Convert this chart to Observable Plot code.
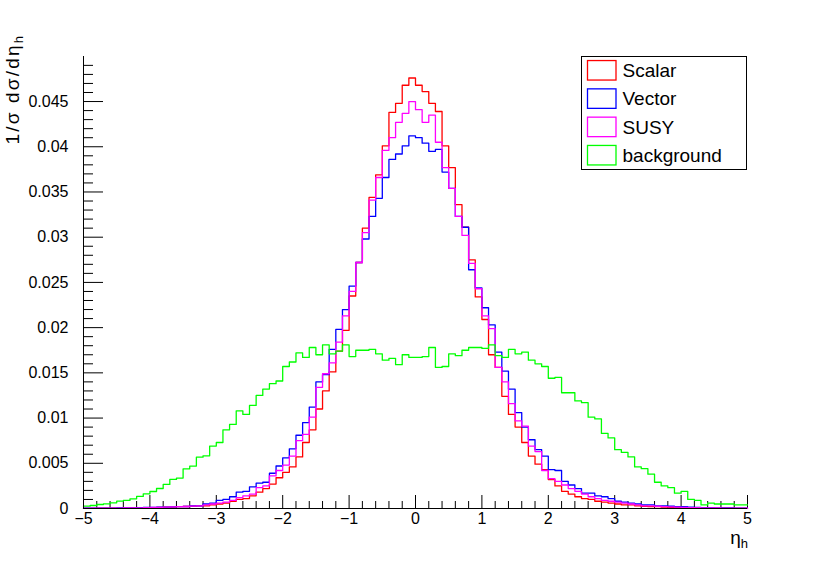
<!DOCTYPE html>
<html><head><meta charset="utf-8">
<script src="https://cdn.jsdelivr.net/npm/d3@7"></script>
<script src="https://cdn.jsdelivr.net/npm/@observablehq/plot@0.6"></script>
<style>body{margin:0;background:#fff;} svg{display:block}</style>
</head><body><div id="chart"></div>
<script>
// Histogram definition: 100 bins of eta_h from -5 to 5
const etaMin = -5, etaMax = 5, nBins = 100;

const scalar = [
0.00002,0.00002,0.00003,0.00003,0.00004,0.00005,0.00005,0.00006,0.00008,0.00009,
0.0001,0.00012,0.00014,0.00016,0.0002,0.00022,0.00025,0.0003,0.0003,0.0004,
0.0005,0.0006,0.0008,0.0010,0.0011,0.0014,0.0018,0.0022,0.0027,0.0034,
0.0040,0.0046,0.0057,0.0073,0.0087,0.0110,0.0130,0.0151,0.0174,0.0197,
0.0235,0.0272,0.0310,0.0344,0.0369,0.0401,0.0438,0.0448,0.0468,0.0476,
0.0468,0.0461,0.0448,0.0439,0.0401,0.0377,0.0336,0.0311,0.0275,0.0234,
0.0209,0.0170,0.0156,0.0124,0.0104,0.0090,0.0073,0.0058,0.0049,0.0043,
0.0032,0.0025,0.0019,0.0016,0.0013,0.0011,0.0010,0.0008,0.0007,0.0006,
0.0005,0.0004,0.0004,0.0003,0.00025,0.0002,0.0002,0.00015,0.00012,0.0001,
0.0001,0.00008,0.00007,0.00006,0.00005,0.00004,0.00004,0.00003,0.00002,0.00002];

const vector = [
0.00003,0.00003,0.00004,0.00004,0.00005,0.00006,0.00007,0.00008,0.0001,0.00011,
0.00013,0.00014,0.00015,0.00017,0.0002,0.00022,0.0003,0.0003,0.0005,0.0006,
0.0009,0.0010,0.0013,0.0018,0.0019,0.0024,0.0028,0.0029,0.0039,0.0047,
0.0056,0.0066,0.0081,0.0095,0.0112,0.0140,0.0148,0.0176,0.0198,0.0220,
0.0246,0.0272,0.0298,0.0323,0.0343,0.0366,0.0386,0.0392,0.0401,0.0412,
0.0410,0.0404,0.0395,0.0397,0.0372,0.0354,0.0323,0.0311,0.0264,0.0244,
0.0222,0.0203,0.0173,0.0152,0.0132,0.0106,0.0090,0.0076,0.0065,0.0058,
0.0043,0.0042,0.0030,0.0026,0.0022,0.0017,0.0017,0.0014,0.0013,0.0011,
0.0008,0.0007,0.0006,0.0005,0.0004,0.0004,0.0003,0.0003,0.00025,0.0002,
0.0002,0.00015,0.00012,0.0001,0.0001,0.00008,0.00007,0.00006,0.00005,0.00004];

const susy = [
0.00002,0.00003,0.00003,0.00004,0.00004,0.00005,0.00006,0.00007,0.00008,0.0001,
0.00011,0.00013,0.00015,0.00017,0.0002,0.00022,0.00027,0.0003,0.0004,0.0005,
0.0006,0.0007,0.0009,0.0012,0.0014,0.0016,0.0023,0.0025,0.0036,0.0042,
0.0048,0.0058,0.0075,0.0082,0.0101,0.0134,0.0149,0.0161,0.0184,0.0213,
0.0240,0.0272,0.0305,0.0341,0.0366,0.0396,0.0410,0.0427,0.0437,0.0450,
0.0441,0.0427,0.0435,0.0405,0.0377,0.0354,0.0323,0.0302,0.0271,0.0243,
0.0213,0.0199,0.0156,0.0140,0.0116,0.0097,0.0091,0.0069,0.0063,0.0042,
0.0033,0.0030,0.0026,0.0022,0.0019,0.0016,0.0013,0.0011,0.0009,0.0008,
0.0007,0.0006,0.0005,0.0004,0.0003,0.0003,0.00025,0.0002,0.00018,0.00015,
0.00012,0.0001,0.00009,0.00008,0.00007,0.00006,0.00005,0.00004,0.00003,0.00003];

const background = [
0.00026,0.00033,0.00044,0.00052,0.00063,0.00081,0.00089,0.00107,0.00133,0.00162,
0.00188,0.00221,0.00266,0.00321,0.00336,0.00439,0.00469,0.00568,0.00583,0.0069,
0.0073,0.0087,0.0093,0.0108,0.0104,0.0114,0.0125,0.0132,0.0138,0.0141,
0.0157,0.0162,0.0172,0.0167,0.0178,0.0170,0.0181,0.0171,0.0174,0.0181,
0.0168,0.0175,0.0175,0.0176,0.0171,0.0164,0.0166,0.0159,0.0170,0.0167,
0.0167,0.0168,0.0178,0.0156,0.0157,0.0171,0.0169,0.0175,0.0178,0.0178,
0.0177,0.0181,0.0169,0.0167,0.0176,0.0171,0.0173,0.0164,0.0160,0.0157,
0.0144,0.0145,0.0128,0.0128,0.0119,0.0117,0.0101,0.0099,0.0083,0.0078,
0.0065,0.0062,0.0057,0.0046,0.0044,0.0038,0.0029,0.0025,0.0023,0.0017,
0.0019,0.0010,0.0009,0.0004,0.0006,0.0005,0.0005,0.0005,0.0004,0.0004];

const seriesNames = ["Scalar", "Vector", "SUSY", "background"];
const seriesColors = ["#ff0000", "#0000ff", "#ff00ff", "#00ff00"];
const xTicks = [-5, -4, -3, -2, -1, 0, 1, 2, 3, 4, 5];
const yTicks = [0, 0.005, 0.01, 0.015, 0.02, 0.025, 0.03, 0.035, 0.04, 0.045];
const yMax = 0.04998;

const binW = (etaMax - etaMin) / nBins;
function steps(vals, name) {
  const pts = vals.map((v, i) => ({eta: etaMin + i * binW, v, name}));
  pts.push({eta: etaMax, v: vals[vals.length - 1], name});
  return pts;
}
const allSeries = [scalar, vector, susy, background];
const lineData = allSeries.flatMap((vals, k) => steps(vals, seriesNames[k]));

const W = 830, H = 565, mL = 83, mR = 83, mT = 56, mB = 57;
const fw = W - mL - mR, fh = H - mT - mB;
const xMinor = d3.range(0, 51).map(i => etaMin + i * 0.2).filter(v => Math.abs(v - Math.round(v)) > 1e-6);
const yMinor = d3.range(0, 50).map(i => i * 0.001).filter(v => Math.abs(v / 0.005 - Math.round(v / 0.005)) > 1e-6);

const fmtX = d => d < 0 ? "\u2212" + Math.abs(d) : String(d);

const chart = Plot.plot({
  width: W, height: H,
  marginLeft: mL, marginRight: mR, marginTop: mT, marginBottom: mB,
  style: {fontFamily: "'Liberation Sans', Arial, Helvetica, sans-serif", fontSize: "16px", background: "#fff", color: "#000"},
  x: {domain: [etaMin, etaMax]},
  y: {domain: [0, yMax]},
  color: {domain: seriesNames, range: seriesColors},
  marks: [
    Plot.tickY(yMinor, {y: d => d, insetRight: fw - 10, stroke: "#000"}),
    Plot.tickY(yTicks, {y: d => d, insetRight: fw - 20, stroke: "#000"}),
    Plot.tickX(xMinor, {x: d => d, insetTop: fh - 7, stroke: "#000"}),
    Plot.tickX(xTicks, {x: d => d, insetTop: fh - 13, stroke: "#000"}),
    Plot.line(lineData, {x: "eta", y: "v", z: "name", stroke: "name", curve: "step-after", strokeWidth: 1.3}),
    Plot.ruleX([etaMin], {stroke: "#000"}),
    Plot.ruleY([0], {stroke: "#000"}),
    Plot.axisX({ticks: xTicks, tickSize: 0, tickPadding: 4, tickFormat: fmtX, label: null, fontSize: 16}),
    Plot.axisY({ticks: yTicks, tickSize: 0, tickPadding: 15, tickFormat: d => String(d), label: null, fontSize: 16})
  ]
});

const svg = d3.select(chart);
const font = "'Liberation Sans', Arial, Helvetica, sans-serif";

// Y axis title
const yt = svg.append("text")
  .attr("transform", "translate(18.5,36) rotate(-90)")
  .attr("text-anchor", "end")
  .attr("font-family", font).attr("font-size", 19).attr("fill", "#000")
  .attr("letter-spacing", 2.2);
yt.append("tspan").text("1/\u03c3 d\u03c3/d\u03b7");
yt.append("tspan").attr("font-size", 13).attr("dy", 4).attr("letter-spacing", 0).text("h");

// X axis title
const xt = svg.append("text")
  .attr("x", 748).attr("y", 544)
  .attr("text-anchor", "end")
  .attr("font-family", font).attr("font-size", 19).attr("fill", "#000");
xt.append("tspan").text("\u03b7");
xt.append("tspan").attr("font-size", 13).attr("dy", 4).text("h");

// Legend
const lg = svg.append("g");
lg.append("rect").attr("x", 581.5).attr("y", 56.5).attr("width", 165).attr("height", 113)
  .attr("fill", "#fff").attr("stroke", "#000").attr("stroke-width", 1);
seriesNames.forEach((name, k) => {
  const cy = 70.3 + 28.3 * k;
  lg.append("rect").attr("x", 587.5).attr("y", cy - 9.75).attr("width", 28.5).attr("height", 19.5)
    .attr("fill", "#fff").attr("stroke", seriesColors[k]).attr("stroke-width", 1.3);
  lg.append("text").attr("x", 622.5).attr("y", cy).attr("dy", "0.36em")
    .attr("text-anchor", "start")
    .attr("font-family", font).attr("font-size", 19).attr("fill", "#000").text(name);
});

document.getElementById("chart").appendChild(chart);
</script>
</body></html>
